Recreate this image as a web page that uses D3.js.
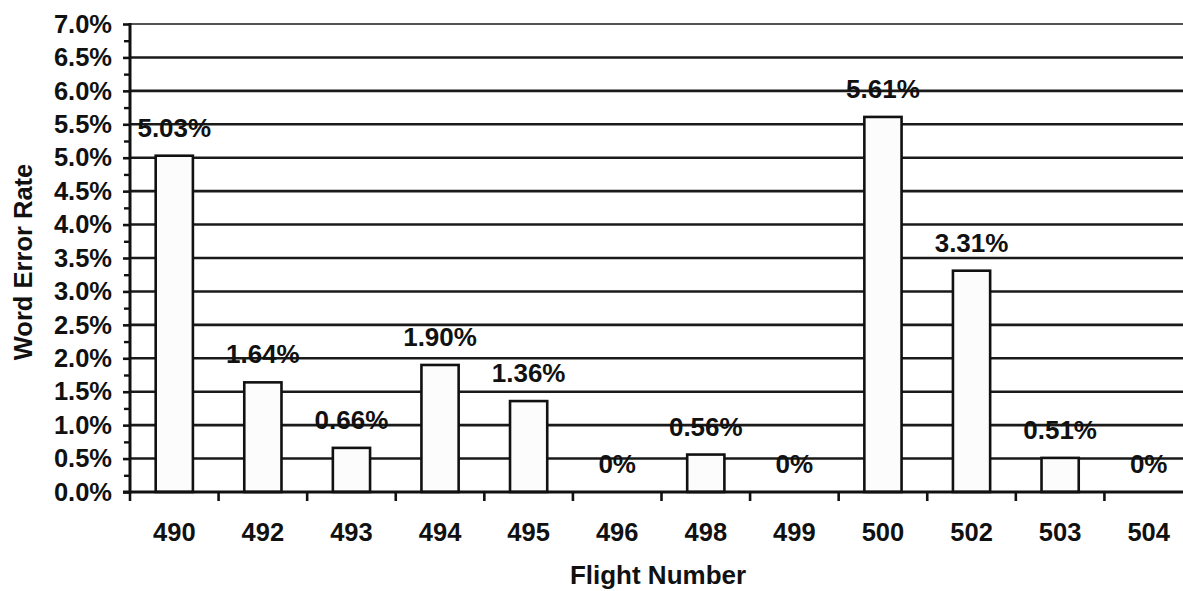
<!DOCTYPE html>
<html>
<head>
<meta charset="utf-8">
<script src="https://cdn.jsdelivr.net/npm/d3@7"></script>
<style>
  body { margin: 0; background: #fff; }
  svg { display: block; }
  text { font-family: "Liberation Sans", Arial, sans-serif; font-weight: bold; fill: #111; }
  .domain { display: none; }
</style>
</head>
<body>
<div id="container"></div>
<script>
// flights and their word error rates (percent)
var flights = ["490","492","493","494","495","496","498","499","500","502","503","504"];
var wer = [5.03, 1.64, 0.66, 1.90, 1.36, 0, 0.56, 0, 5.61, 3.31, 0.51, 0];
var yTicks = [0,0.5,1,1.5,2,2.5,3,3.5,4,4.5,5,5.5,6,6.5,7];

var W = 1183, H = 591;
var margin = {top: 24, left: 130, bottom: 99},
    plotRight = 1193,
    plotBottom = H - margin.bottom;

var svg = d3.select("#container").append("svg")
  .attr("width", W)
  .attr("height", H);

var x = d3.scaleBand().domain(flights).range([margin.left, plotRight])
  .paddingInner(0.58).paddingOuter(0.29);
var xCat = d3.scaleBand().domain(flights).range([margin.left, plotRight]);
var y = d3.scaleLinear().domain([0, 7]).range([plotBottom, margin.top]);

// horizontal gridlines
svg.append("g")
  .selectAll("line")
  .data(yTicks.filter(d => d > 0))
  .enter().append("line")
  .attr("x1", margin.left).attr("x2", plotRight)
  .attr("y1", d => y(d)).attr("y2", d => y(d))
  .attr("stroke", "#1a1a1a")
  .attr("stroke-width", d => d == 7 ? 1.6 : 2.6);

// bars
var rows = flights.map((f, i) => ({flight: f, value: wer[i]}));
svg.append("g")
  .selectAll("rect")
  .data(rows.filter(d => d.value > 0))
  .enter().append("rect")
  .attr("x", d => x(d.flight))
  .attr("y", d => y(d.value))
  .attr("width", x.bandwidth())
  .attr("height", d => y(0) - y(d.value))
  .attr("fill", "#fcfcfc")
  .attr("stroke", "#111")
  .attr("stroke-width", 2.6);

// value labels
svg.append("g")
  .selectAll("text")
  .data(rows)
  .enter().append("text")
  .attr("x", d => xCat(d.flight) + xCat.bandwidth() / 2)
  .attr("y", d => y(d.value) - 19)
  .attr("text-anchor", "middle")
  .attr("font-size", "26px")
  .text(d => d.value == 0 ? "0%" : d.value.toFixed(2) + "%");

// y axis: major + minor ticks
var yAxis = svg.append("g")
  .attr("transform", "translate(" + margin.left + ",0)")
  .call(d3.axisLeft(y).tickValues(yTicks).tickSize(7).tickPadding(11)
    .tickFormat(d => d.toFixed(1) + "%"));
yAxis.selectAll("text").attr("font-size", "25.5px").style("fill", "#111");
yAxis.selectAll(".tick line").attr("stroke", "#111").attr("stroke-width", 2.6);

var minor = yTicks.slice(0, -1).map(d => d + 0.25);
svg.append("g")
  .attr("transform", "translate(" + margin.left + ",0)")
  .call(d3.axisLeft(y).tickValues(minor).tickSize(6).tickFormat(""))
  .selectAll(".tick line").attr("stroke", "#111").attr("stroke-width", 2.4);

// axis lines
svg.append("line")
  .attr("x1", margin.left).attr("x2", margin.left)
  .attr("y1", y(7) - 1).attr("y2", plotBottom + 1.5)
  .attr("stroke", "#111").attr("stroke-width", 3);
svg.append("line")
  .attr("x1", margin.left - 7).attr("x2", plotRight)
  .attr("y1", plotBottom).attr("y2", plotBottom)
  .attr("stroke", "#111").attr("stroke-width", 3);

// x ticks at category boundaries
svg.append("g")
  .selectAll("line")
  .data(flights)
  .enter().append("line")
  .attr("x1", d => xCat(d)).attr("x2", d => xCat(d))
  .attr("y1", plotBottom).attr("y2", plotBottom + 9)
  .attr("stroke", "#111").attr("stroke-width", 2.6);

// x tick labels
svg.append("g")
  .selectAll("text")
  .data(flights)
  .enter().append("text")
  .attr("x", d => xCat(d) + xCat.bandwidth() / 2)
  .attr("y", 541)
  .attr("text-anchor", "middle")
  .attr("font-size", "25.5px")
  .text(d => d);

// axis titles
svg.append("text")
  .attr("x", 658).attr("y", 584)
  .attr("text-anchor", "middle")
  .attr("font-size", "26px")
  .text("Flight Number");

svg.append("text")
  .attr("transform", "translate(32,262) rotate(-90)")
  .attr("text-anchor", "middle")
  .attr("font-size", "25.5px")
  .text("Word Error Rate");
</script>
</body>
</html>
